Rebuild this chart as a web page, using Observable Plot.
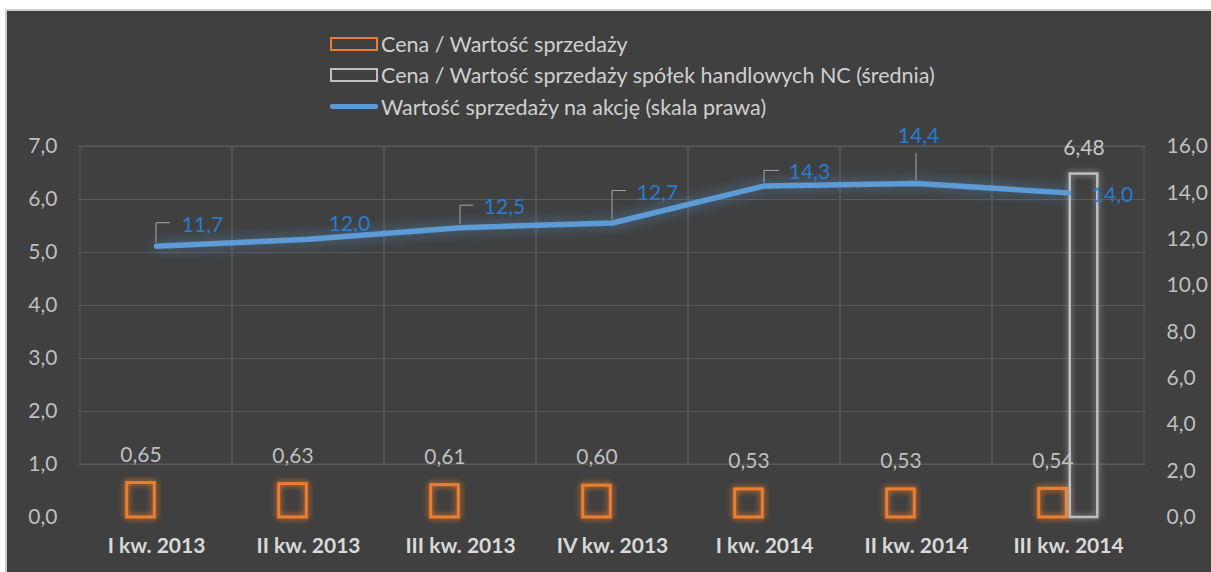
<!DOCTYPE html>
<html><head><meta charset="utf-8">
<script src="https://cdn.jsdelivr.net/npm/d3@7"></script>
<script src="https://cdn.jsdelivr.net/npm/@observablehq/plot@0.6"></script>
<style>
html,body{margin:0;padding:0;background:#fff;}
body{width:1211px;height:572px;overflow:hidden;position:relative;font-family:Lato,"Open Sans",sans-serif;}
#frame{position:absolute;left:5px;top:9px;right:0;bottom:0;background:#404040;border-left:2px solid #cbcbcb;border-top:2px solid #cbcbcb;}
#legend{position:absolute;left:330px;top:28px;color:#d0d0d0;font-size:21.5px;}
.item{display:flex;align-items:center;height:31.5px;white-space:nowrap;}
.sw{width:48px;height:14px;box-sizing:border-box;margin-right:3px;}
#chart{position:absolute;left:0;top:120px;}
</style></head>
<body>
<div id="frame"></div>
<div id="legend"></div>
<div id="chart"></div>
<script>
// ---- data ----
const categories = ["I kw. 2013","II kw. 2013","III kw. 2013","IV kw. 2013","I kw. 2014","II kw. 2014","III kw. 2014"];
const priceToSales = [0.65,0.63,0.61,0.60,0.53,0.53,0.54];
const ncAverage = [null,null,null,null,null,null,6.48];
const salesPerShare = [11.7,12.0,12.5,12.7,14.3,14.4,14.0];
const leftTicks = [0,1,2,3,4,5,6,7];
const rightTicks = [0,2,4,6,8,10,12,14,16];
const seriesNames = ["Cena / Wartość sprzedaży","Cena / Wartość sprzedaży spółek handlowych NC (średnia)","Wartość sprzedaży na akcję (skala prawa)"];
// ---- label styling (pixel offsets) ----
const lineLabelDx = [46,41,44,45,45,2,44];
const lineLabelDy = [-21,-15,-20,-30,-14,-47,2];
const leaderUp = [23,0,22,32,15,30,0];
const leaderRight = [14,0,13,14,15,0,0];

const colOrange = "#ed7d31", colGray = "#bfbfbf", colLine = "#5b9bd5", colLabel = "#2a7ccf", colGrid = "#5a5a5a";
const FS = 21;
const fmt1 = v => d3.format(".1f")(v).replace(".", ",");
const fmt2 = v => d3.format(".2f")(v).replace(".", ",");
const k = 7/16; // right scale (0-16) -> left scale (0-7)

// legend
const legend = document.getElementById("legend");
const swStyles = [
  `border:2px solid ${colOrange};`,
  `border:2px solid ${colGray};`,
  `height:5px;background:${colLine};border-radius:2px;`
];
seriesNames.forEach((n,i)=>{
  const it = document.createElement("div"); it.className="item";
  const sw = document.createElement("div"); sw.className="sw"; sw.style.cssText = swStyles[i];
  const tx = document.createElement("span"); tx.textContent = n;
  it.appendChild(sw); it.appendChild(tx); legend.appendChild(it);
});

const rows = categories.map((c,i)=>({cat:c, p:priceToSales[i], nc:ncAverage[i], s:salesPerShare[i], i}));
const ncRows = rows.filter(d=>d.nc!=null);
const gridRows = rows.map(d=>({cat:d.cat}));
const barW = 28, half = 15.5, bandW = (1145-78)/7;

const lineLabelMarks = rows.map((d,i)=>Plot.text([d],{x:"cat", y:r=>r.s*k, text:r=>fmt1(r.s), dx:lineLabelDx[i], dy:lineLabelDy[i], fill:colLabel, fontSize:FS}));

const plot = Plot.plot({
  width:1211, height:452,
  marginLeft:78, marginRight:66, marginTop:26, marginBottom:55,
  style:{background:"transparent", fontFamily:"Lato, 'Open Sans', sans-serif", fontSize:FS+"px", color:"#bfbfbf", overflow:"visible"},
  x:{type:"band", domain:categories, padding:0, axis:null},
  y:{domain:[0,7], axis:null},
  marks:[
    Plot.barY(gridRows,{x:"cat", y1:1, y2:7, fill:"none", stroke:colGrid, strokeWidth:1}),
    Plot.ruleY(leftTicks.filter(t=>t>=1),{stroke:colGrid, strokeWidth:1}),
    Plot.axisY(leftTicks,{anchor:"left", tickSize:0, tickPadding:21, tickFormat:fmt1, label:null, fontSize:FS, color:"#bfbfbf"}),
    Plot.axisY(rightTicks.map(t=>t*k),{anchor:"right", tickSize:0, tickPadding:21, tickFormat:v=>fmt1(Math.round(v/k)), label:null, fontSize:FS, color:"#bfbfbf"}),
    Plot.axisX({anchor:"bottom", tickSize:0, tickPadding:21, label:null, fontSize:FS, fontWeight:"bold", color:"#d9d9d9"}),
    Plot.barY(rows,{x:"cat", y1:0, y2:"p", dx:-half, insetLeft:(bandW-barW)/2, insetRight:(bandW-barW)/2, fill:"none", stroke:colOrange, strokeWidth:3}),
    Plot.barY(ncRows,{x:"cat", y1:0, y2:"nc", dx:half, insetLeft:(bandW-barW)/2, insetRight:(bandW-barW)/2, fill:"none", stroke:colGray, strokeWidth:2.5}),
    Plot.text(rows,{x:"cat", y:"p", text:d=>fmt2(d.p), dx:-half, dy:-28, fill:"#bfbfbf", fontSize:FS}),
    Plot.text(ncRows,{x:"cat", y:"nc", text:d=>fmt2(d.nc), dx:half, dy:-26, fill:"#c8c8c8", fontSize:FS}),
    Plot.line(rows,{x:"cat", y:d=>d.s*k, stroke:colLine, strokeWidth:5.5, strokeLinejoin:"round", strokeLinecap:"round"}),
    ...lineLabelMarks
  ]
});
document.getElementById("chart").appendChild(plot);

// glow filters + leader lines using the plot's own scales
const svg = d3.select(plot);
const defs = svg.insert("defs", ":first-child");
function glow(id, sd, color, opacity){
  const f = defs.append("filter").attr("id", id).attr("filterUnits","userSpaceOnUse")
    .attr("x",0).attr("y",0).attr("width",1211).attr("height",452);
  f.append("feGaussianBlur").attr("in","SourceAlpha").attr("stdDeviation",sd).attr("result","b");
  f.append("feFlood").attr("flood-color",color).attr("flood-opacity",opacity);
  f.append("feComposite").attr("in2","b").attr("operator","in").attr("result","g");
  const m = f.append("feMerge");
  m.append("feMergeNode").attr("in","g");
  m.append("feMergeNode").attr("in","g");
  m.append("feMergeNode").attr("in","SourceGraphic");
}
glow("glowO", 3, colOrange, 0.6);
glow("glowG", 3, "#dddddd", 0.35);
glow("glowB", 7, colLine, 0.35);
svg.selectAll(`g[stroke="${colOrange}"]`).attr("filter","url(#glowO)");
svg.selectAll(`g[stroke="${colGray}"]`).attr("filter","url(#glowG)");
svg.selectAll(`g[stroke="${colLine}"]`).attr("filter","url(#glowB)");

const sx = plot.scale("x"), sy = plot.scale("y");
const lead = svg.append("g").attr("fill","none").attr("stroke","#a6a6a6").attr("stroke-width",1);
rows.forEach((d,i)=>{
  if (!leaderUp[i]) return;
  const px = sx.apply(d.cat) + sx.bandwidth/2, py = sy.apply(d.s*k);
  lead.append("path").attr("d", `M${px},${py-3}V${py-leaderUp[i]}h${leaderRight[i]}`);
});
</script>
</body></html>
